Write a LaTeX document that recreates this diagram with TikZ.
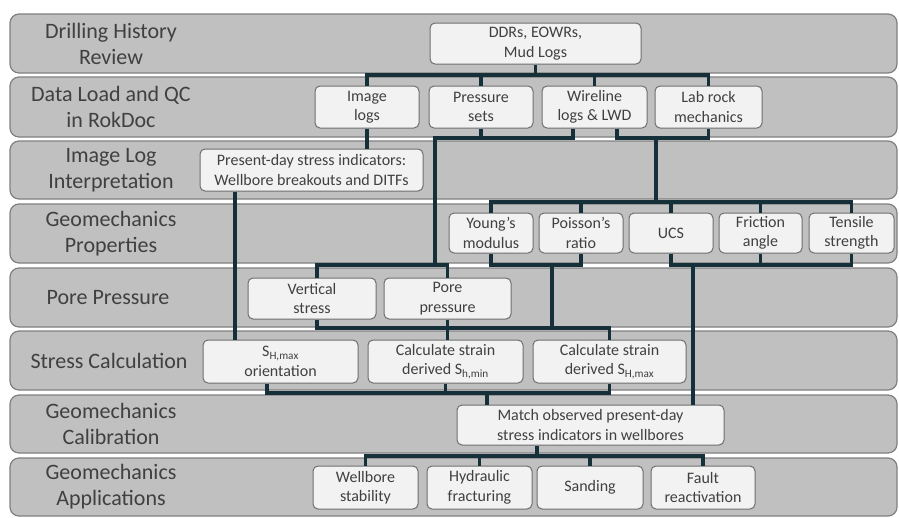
\documentclass[tikz,border=0pt]{standalone}
\usepackage{fontspec}
\setmainfont{Carlito}
\definecolor{bandfill}{RGB}{192,192,192}
\definecolor{bandline}{RGB}{128,128,128}
\definecolor{boxfill}{RGB}{242,242,242}
\definecolor{boxline}{RGB}{110,110,110}
\definecolor{conn}{RGB}{22,48,58}
\definecolor{txt}{RGB}{64,64,64}
\tikzset{
 band/.style={draw=bandline, line width=1.2pt, fill=bandfill, rounded corners=9pt},
 lanelabel/.style={text=txt, align=center, font=\fontsize{22}{26}\selectfont},
 stepbox/.style={draw=boxline, line width=1pt, fill=boxfill, rounded corners=5pt, align=center, text=txt, font=\fontsize{16}{19.5}\selectfont, inner sep=0pt},
 link/.style={draw=conn, line width=3.3pt},
}
\begin{document}
\begin{tikzpicture}[x=1pt,y=-1pt]
\useasboundingbox (0,0) rectangle (899,517);
% bands
\draw[band] (10,14) rectangle (897,73);
\draw[band] (10,77) rectangle (897,137);
\draw[band] (10,141) rectangle (897,199);
\draw[band] (10,204) rectangle (897,263);
\draw[band] (10,268) rectangle (897,327);
\draw[band] (10,331) rectangle (897,390);
\draw[band] (10,395) rectangle (897,453);
\draw[band] (10,458) rectangle (897,516);
% lane labels
\node[lanelabel] (l1) at (111,43.5) {Drilling History\\Review};
\node[lanelabel] (l2) at (111,107) {Data Load and QC\\in RokDoc};
\node[lanelabel] (l3) at (111,170) {Image Log\\Interpretation};
\node[lanelabel] (l4) at (111,233.5) {Geomechanics\\Properties};
\node[lanelabel] (l5) at (108,297.5) {Pore Pressure};
\node[lanelabel] (l6) at (109,361) {Stress Calculation};
\node[lanelabel] (l7) at (111,424) {Geomechanics\\Calibration};
\node[lanelabel] (l8) at (111,487) {Geomechanics\\Applications};
% boxes
\node[stepbox, minimum width=211pt, minimum height=41pt] (ddr) at (535.5,43.5) {DDRs, EOWRs,\\Mud Logs};
\node[stepbox, minimum width=104pt, minimum height=42pt] (img) at (367,107) {Image\\logs};
\node[stepbox, minimum width=104pt, minimum height=42pt] (press) at (481,107) {Pressure\\sets};
\node[stepbox, minimum width=105pt, minimum height=42pt] (wire) at (594.5,107) {Wireline\\logs \& LWD};
\node[stepbox, minimum width=107pt, minimum height=42pt] (lab) at (708.5,107) {Lab rock\\mechanics};
\node[stepbox, minimum width=223pt, minimum height=42pt] (pdsi) at (311.5,170) {Present-day stress indicators:\\Wellbore breakouts and DITFs};
\node[stepbox, minimum width=84pt, minimum height=40pt] (young) at (491,233) {Young's\\modulus};
\node[stepbox, minimum width=84pt, minimum height=40pt] (poisson) at (581,233) {Poisson's\\ratio};
\node[stepbox, minimum width=84pt, minimum height=40pt] (ucs) at (671,233) {UCS};
\node[stepbox, minimum width=83pt, minimum height=40pt] (fric) at (760.5,233) {Friction\\angle};
\node[stepbox, minimum width=85pt, minimum height=40pt] (tens) at (851.5,233) {Tensile\\strength};
\node[stepbox, minimum width=128pt, minimum height=41pt] (vs) at (312,298.5) {Vertical\\stress};
\node[stepbox, minimum width=127pt, minimum height=41pt] (pore) at (447.5,298.5) {Pore\\pressure};
\node[stepbox, minimum width=155pt, minimum height=43pt] (shor) at (280.5,361.5) {S\textsubscript{H,max}\\orientation};
\node[stepbox, minimum width=155pt, minimum height=43pt] (shmin) at (445.5,361.5) {Calculate strain\\derived S\textsubscript{h,min}};
\node[stepbox, minimum width=153pt, minimum height=43pt] (shmax) at (609.5,361.5) {Calculate strain\\derived S\textsubscript{H,max}};
\node[stepbox, minimum width=267pt, minimum height=40pt] (match) at (590.5,425) {Match observed present-day\\stress indicators in wellbores};
\node[stepbox, minimum width=105pt, minimum height=43pt] (wbs) at (365.5,487.5) {Wellbore\\stability};
\node[stepbox, minimum width=105pt, minimum height=43pt] (hyd) at (479.5,487.5) {Hydraulic\\fracturing};
\node[stepbox, minimum width=106pt, minimum height=43pt] (sand) at (590,487.5) {Sanding};
\node[stepbox, minimum width=104pt, minimum height=43pt] (fault) at (703,487.5) {Fault\\reactivation};
% bus levels and routing points
\coordinate (y75) at (0,75);
\coordinate (y138) at (0,138);
\coordinate (y202) at (0,202);
\coordinate (y265) at (0,265);
\coordinate (y328) at (0,328);
\coordinate (y393) at (0,393);
\coordinate (y456) at (0,456);
\coordinate (x435) at (435,0);
\coordinate (x656) at (656,0);
\coordinate (x552) at (552,0);
\coordinate (wireL) at ([xshift=-21.5pt]wire.south);
\coordinate (wireR) at ([xshift=22.5pt]wire.south);
\coordinate (vsT) at ([xshift=5pt]vs.north);
\coordinate (vsB) at ([xshift=5pt]vs.south);
\coordinate (pdsiB) at ([xshift=-76.5pt]pdsi.south);
\coordinate (shorB) at ([xshift=-13.5pt]shor.south);
\coordinate (mL) at ([xshift=-103.5pt]match.north);
\coordinate (mR) at ([xshift=102.5pt]match.north);
\coordinate (mB) at ([xshift=-53.5pt]match.south);
% connectors
\draw[link] (ddr.south) -- (ddr.south |- y75);
\draw[link] (img.north) -- (img.north |- y75) -- (lab.north |- y75) -- (lab.north);
\draw[link] (press.north) -- (press.north |- y75);
\draw[link] (wire.north) -- (wire.north |- y75);
\draw[link] (img.south) -- (img.south |- pdsi.north);
\draw[link] (press.south) -- (press.south |- y138);
\draw[link] (wireL) -- (wireL |- y138) -- (x435 |- y138) -- (x435 |- y265);
\draw[link] (vsT) -- (vsT |- y265) -- (pore.north |- y265) -- (pore.north);
\draw[link] (wireR) -- (wireR |- y138) -- (lab.south |- y138) -- (lab.south);
\draw[link] (x656 |- y138) -- (x656 |- y202);
\draw[link] (young.north) -- (young.north |- y202) -- (tens.north |- y202) -- (tens.north);
\draw[link] (poisson.north) -- (poisson.north |- y202);
\draw[link] (ucs.north) -- (ucs.north |- y202);
\draw[link] (fric.north) -- (fric.north |- y202);
\draw[link] (pdsiB) -- (pdsiB |- shor.north);
\draw[link] (young.south) -- (young.south |- y265) -- (poisson.south |- y265) -- (poisson.south);
\draw[link] (x552 |- y265) -- (x552 |- y328);
\draw[link] (vsB) -- (vsB |- y328) -- (shmax.north |- y328) -- (shmax.north);
\draw[link] (pore.south) -- (pore.south |- shmin.north);
\draw[link] (ucs.south) -- (ucs.south |- y265) -- (tens.south |- y265) -- (tens.south);
\draw[link] (fric.south) -- (fric.south |- y265);
\draw[link] (mR |- y265) -- (mR);
\draw[link] (shorB) -- (shorB |- y393) -- (shmax.south |- y393) -- (shmax.south);
\draw[link] (shmin.south) -- (shmin.south |- y393);
\draw[link] (mL |- y393) -- (mL);
\draw[link] (mB) -- (mB |- y456);
\draw[link] (wbs.north) -- (wbs.north |- y456) -- (fault.north |- y456) -- (fault.north);
\draw[link] (hyd.north) -- (hyd.north |- y456);
\draw[link] (sand.north) -- (sand.north |- y456);
\end{tikzpicture}
\end{document}
